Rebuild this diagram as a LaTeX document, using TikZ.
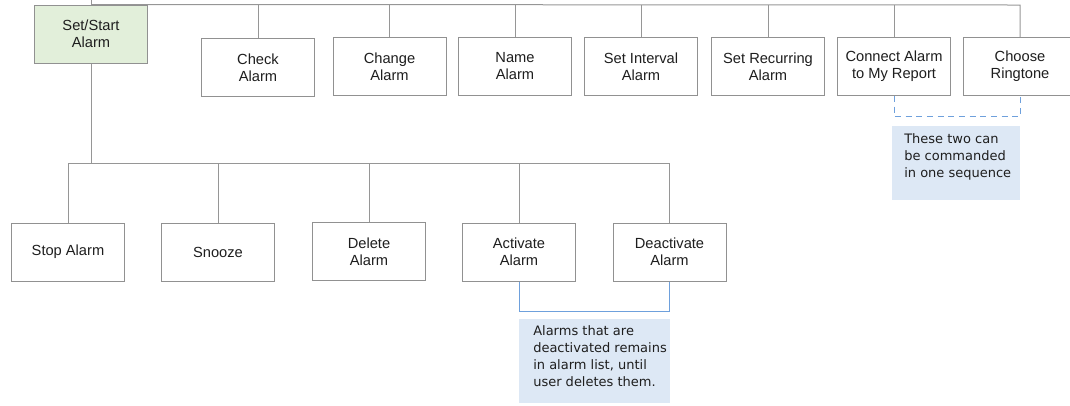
\documentclass[tikz,border=0pt]{standalone}
\usepackage{fontspec}
\setmainfont{Liberation Sans}
\newfontfamily\notefont{DejaVu Sans}
\definecolor{linegrey}{RGB}{150,150,150}
\definecolor{boxgrey}{RGB}{145,145,145}
\definecolor{greenfill}{RGB}{226,239,218}
\definecolor{notefill}{RGB}{221,232,245}
\definecolor{bracketblue}{RGB}{110,160,220}
\definecolor{txt}{RGB}{30,30,30}
\begin{document}
\begin{tikzpicture}[x=0.75pt,y=-0.75pt,
  box/.style={draw=boxgrey, line width=0.75pt, fill=white, minimum width=84.75pt, minimum height=43.5pt,
    inner sep=0pt, align=center, text=txt, font=\fontsize{11}{12.75}\selectfont},
  rootbox/.style={box, fill=greenfill},
  conn/.style={draw=linegrey, line width=0.75pt},
  bracket/.style={draw=bracketblue, line width=0.75pt},
  notebg/.style={fill=notefill, draw=none, inner sep=0pt},
  notetext/.style={inner sep=0pt, align=left, text=txt, font=\notefont\fontsize{9.75}{12.75}\selectfont}
]
\useasboundingbox (0,0) rectangle (1070,405);
\clip (0,0) rectangle (1070,405);

% top row
\node[rootbox] (set) at (91,34) {Set/Start\\Alarm};
\node[box] (check) at (258,67.5) {Check\\Alarm};
\node[box] (change) at (389.5,66.5) {Change\\Alarm};
\node[box] (name) at (515,66) {Name\\Alarm};
\node[box] (interval) at (641,66.5) {Set Interval\\Alarm};
\node[box] (recurring) at (768,66.5) {Set Recurring\\Alarm};
\node[box] (connect) at (894,66.5) {Connect Alarm\\to My Report};
\node[box] (choose) at (1020,66.5) {Choose\\Ringtone};

% bottom row
\node[box] (stop) at (68,252) {Stop Alarm};
\node[box] (snooze) at (218,252) {Snooze};
\node[box] (delete) at (369,251.5) {Delete\\Alarm};
\node[box] (activate) at (519,252) {Activate\\Alarm};
\node[box] (deactivate) at (669.5,252) {Deactivate\\Alarm};

% top bus
\coordinate (parent) at (91,0);
\coordinate (topbus) at (0,5);
\coordinate (lowbus) at (0,163);
\draw[conn] (parent) -- (set.north);
\draw[conn] (set.north) -- (choose.north |- topbus) -- (choose.north);
\foreach \n in {check,change,name,interval,recurring,connect}
  \draw[conn] (\n.north |- topbus) -- (\n.north);

% lower bus
\draw[conn] (set.south) -- (set.south |- lowbus);
\draw[conn] (stop.north) -- (stop.north |- lowbus) -- (deactivate.north |- lowbus) -- (deactivate.north);
\foreach \n in {snooze,delete,activate}
  \draw[conn] (\n.north |- lowbus) -- (\n.north);

% brackets
\coordinate (b1) at (0,116.5);
\draw[bracket, dash pattern=on 4.5pt off 3.5pt] (connect.south) -- (connect.south |- b1) -- (choose.south |- b1) -- (choose.south);
\coordinate (b2) at (0,311);
\draw[bracket] (activate.south) -- (activate.south |- b2) -- (deactivate.south |- b2) -- (deactivate.south);

% notes
\node[notebg, minimum width=96pt, minimum height=55.5pt] (note1bg) at (956,163) {};
\node[notetext, anchor=north west] (note1) at (904,133) {These two can\\be commanded\\in one sequence};
\node[notebg, minimum width=113.25pt, minimum height=63pt] (note2bg) at (594.5,361) {};
\node[notetext, anchor=north west] (note2) at (533,325) {Alarms that are\\deactivated remains\\in alarm list, until\\user deletes them.};
\end{tikzpicture}
\end{document}
